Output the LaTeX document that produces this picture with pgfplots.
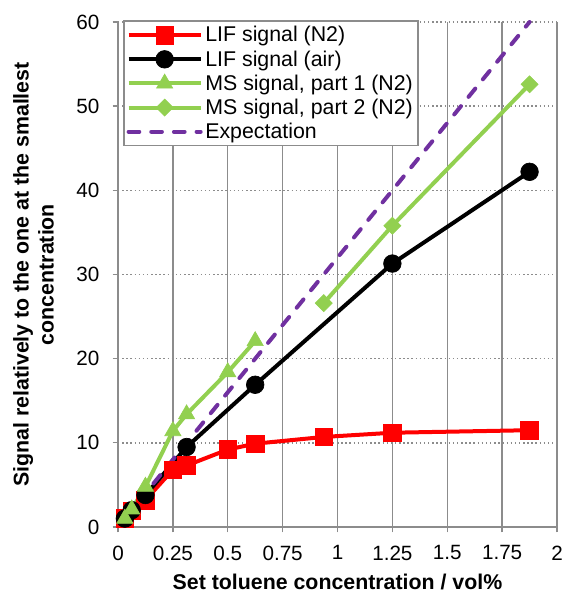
\documentclass[border=0pt]{standalone}
\usepackage{pgfplots}
\pgfplotsset{compat=1.18}
\usepackage{fontspec}
\setmainfont{Liberation Sans}
\definecolor{msgreen}{HTML}{92D050}
\definecolor{expurple}{HTML}{7030A0}
\definecolor{gridgray}{HTML}{8C8C8C}
\begin{document}
\begin{tikzpicture}
\begin{axis}[
  scale only axis,
  width=329.25pt, height=378.75pt,
  xmin=0, xmax=2, ymin=0, ymax=60,
  xtick={0,0.25,0.5,0.75,1,1.25,1.5,1.75,2},
  xticklabels={0,0.25,0.5,0.75,1,1.25,1.5,1.75,2},
  ytick={0,10,20,30,40,50,60},
  axis lines*=left,
  axis line style={gridgray, line width=1.2pt},
  tick style={gridgray, line width=1pt},
  tick align=outside,
  major tick length=4pt,
  xmajorgrids, ymajorgrids,
  x grid style={gridgray, line width=1.1pt},
  y grid style={gridgray, line width=1.1pt, dotted},
  ticklabel style={font=\fontsize{15.5}{18}\selectfont},
  xticklabel style={yshift=-6.5pt},
  yticklabel style={xshift=-6.5pt},
  /pgf/number format/assume math mode=true,
  xlabel={\bfseries Set toluene concentration / vol\%},
  ylabel={\bfseries Signal relatively to the one at the smallest\\\bfseries concentration},
  ylabel style={align=center, font=\fontsize{16}{18.75}\selectfont, yshift=10pt},
  xlabel style={font=\fontsize{16}{18}\selectfont, yshift=-3.5pt},
  clip=false,
  legend cell align=left,
  legend style={at={(0.012,1.003)}, anchor=north west, draw=gridgray, line width=1pt,
    fill=white, font=\fontsize{16}{18.9}\selectfont, row sep=1pt, inner sep=2pt,
    nodes={inner sep=2pt}},
  legend image code/.code={%
    \draw[mark repeat=2,mark phase=2] plot coordinates {(0cm,0cm) (0.95cm,0cm) (1.9cm,0cm)};},
  every axis plot/.append style={line width=3pt},
]
\coordinate (bl) at (rel axis cs:0,0);
\coordinate (tr) at (rel axis cs:1,1);
\addplot[color=red, mark=square*, mark size=6.6pt, mark options={solid, fill=red, line width=0.5pt}]
  coordinates {(0.03125,1) (0.0625,1.9) (0.125,3.2) (0.25,6.8) (0.3125,7.3) (0.5,9.2) (0.625,9.9) (0.9375,10.7) (1.25,11.2) (1.875,11.5)};
\addlegendentry{LIF signal (N2)}
\addplot[color=black, mark=*, mark size=6.6pt, mark options={solid, fill=black, line width=0.5pt}]
  coordinates {(0.03125,1) (0.0625,2.0) (0.125,3.8) (0.3125,9.5) (0.625,16.9) (1.25,31.3) (1.875,42.2)};
\addlegendentry{LIF signal (air)}
\addplot[color=msgreen, mark=triangle*, mark size=7pt, mark options={solid, fill=msgreen, line width=0.5pt}]
  coordinates {(0.03125,1) (0.0625,2.1) (0.125,4.8) (0.25,11.4) (0.3125,13.4) (0.5,18.4) (0.625,22.1)};
\addlegendentry{MS signal, part 1 (N2)}
\addplot[color=msgreen, mark=square*, mark size=4.5pt, mark options={solid, fill=msgreen, line width=0.5pt, rotate=45}]
  coordinates {(0.9375,26.6) (1.25,35.8) (1.875,52.6)};
\addlegendentry{MS signal, part 2 (N2)}
\addplot[color=expurple, line cap=round, dash pattern=on 8pt off 9pt, mark=none]
  coordinates {(0.03125,1) (0.0625,2) (0.125,4) (0.25,8) (0.3125,10) (0.5,16) (0.625,20) (0.9375,30) (1.25,40) (1.875,60)};
\addlegendentry{Expectation}
\end{axis}
\pgfresetboundingbox
\path[use as bounding box] ([xshift=-88.5pt,yshift=-50.25pt]bl) rectangle ([xshift=5.25pt,yshift=16.5pt]tr);
\end{tikzpicture}
\end{document}
